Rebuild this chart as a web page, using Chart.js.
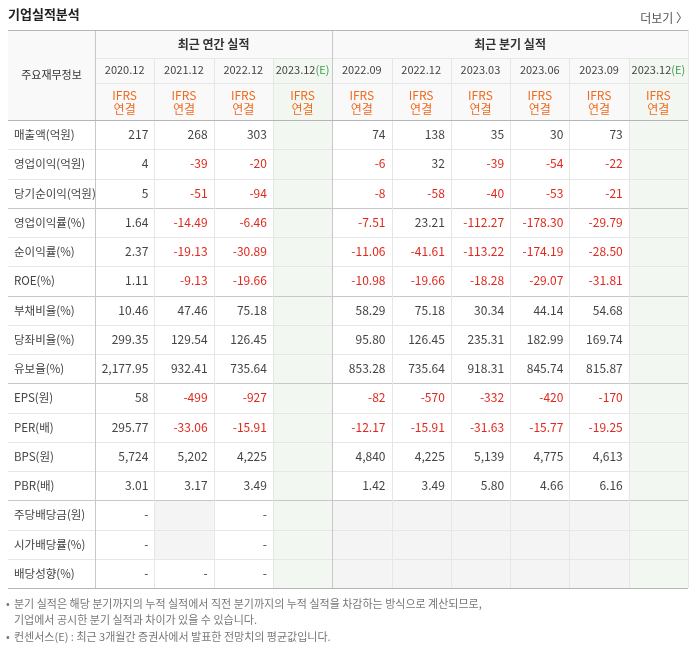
<!DOCTYPE html>
<html>
<head>
<meta charset="utf-8">
<script src="https://cdn.jsdelivr.net/npm/chart.js@4"></script>
<style>
body { margin: 0; background: #fff; }
#wrap { width: 694px; height: 648px; }
</style>
</head>
<body>
<div id="wrap"><canvas id="tabela"></canvas></div>
<script>
const colunas = ['2020.12', '2021.12', '2022.12', '2023.12(E)', '2022.09', '2022.12', '2023.03', '2023.06', '2023.09', '2023.12(E)']
const linhas = ['매출액(억원)', '영업이익(억원)', '당기순이익(억원)', '영업이익률(%)', '순이익률(%)', 'ROE(%)',
    '부채비율(%)', '당좌비율(%)', '유보율(%)', 'EPS(원)', 'PER(배)', 'BPS(원)', 'PBR(배)',
    '주당배당금(원)', '시가배당률(%)', '배당성향(%)']

// annual 3 values + quarterly 5 values per row ('' = empty)
const anual = [
    ['217', '268', '303'], ['4', '-39', '-20'], ['5', '-51', '-94'],
    ['1.64', '-14.49', '-6.46'], ['2.37', '-19.13', '-30.89'], ['1.11', '-9.13', '-19.66'],
    ['10.46', '47.46', '75.18'], ['299.35', '129.54', '126.45'], ['2,177.95', '932.41', '735.64'],
    ['58', '-499', '-927'], ['295.77', '-33.06', '-15.91'], ['5,724', '5,202', '4,225'],
    ['3.01', '3.17', '3.49'], ['-', '', '-'], ['-', '', '-'], ['-', '-', '-']
]
const trimestral = [
    ['74', '138', '35', '30', '73'], ['-6', '32', '-39', '-54', '-22'], ['-8', '-58', '-40', '-53', '-21'],
    ['-7.51', '23.21', '-112.27', '-178.30', '-29.79'], ['-11.06', '-41.61', '-113.22', '-174.19', '-28.50'],
    ['-10.98', '-19.66', '-18.28', '-29.07', '-31.81'],
    ['58.29', '75.18', '30.34', '44.14', '54.68'], ['95.80', '126.45', '235.31', '182.99', '169.74'],
    ['853.28', '735.64', '918.31', '845.74', '815.87'],
    ['-82', '-570', '-332', '-420', '-170'], ['-12.17', '-15.91', '-31.63', '-15.77', '-19.25'],
    ['4,840', '4,225', '5,139', '4,775', '4,613'], ['1.42', '3.49', '5.80', '4.66', '6.16'],
    ['', '', '', '', ''], ['', '', '', '', ''], ['', '', '', '', '']
]
const separadores = [3, 6, 9, 13]
const notas = [
    '분기 실적은 해당 분기까지의 누적 실적에서 직전 분기까지의 누적 실적을 차감하는 방식으로 계산되므로,',
    '기업에서 공시한 분기 실적과 차이가 있을 수 있습니다.',
    '컨센서스(E) : 최근 3개월간 증권사에서 발표한 전망치의 평균값입니다.'
]

const fonte = '"Noto Sans CJK KR", "Noto Sans", sans-serif'

const desenhaTabela = {
    id: 'desenhaTabela',
    afterDraw(chart) {
        const c = chart.ctx
        const x = chart.scales.x, y = chart.scales.y
        const area = chart.chartArea
        const cw = (area.right - area.left) / colunas.length
        const rh = (area.bottom - area.top) / linhas.length
        const topo = 30, esq = 8
        const hdr1 = topo + 28, hdr2 = hdr1 + 25

        c.save()
        // header background
        c.fillStyle = '#f9f9f9'
        c.fillRect(esq, topo, area.right - esq, area.top - topo)
        // estimate columns
        c.fillStyle = '#f2f8f1'
        ;[3, 9].forEach(i => {
            const cx = x.getPixelForValue(i)
            c.fillRect(cx - cw / 2, hdr1, cw, area.bottom - hdr1)
        })
        // empty dividend cells
        c.fillStyle = '#f4f4f4'
        for (let r = 13; r < linhas.length; r++) {
            const cy = y.getPixelForValue(r)
            for (let i = 0; i < colunas.length; i++) {
                const vazio = (i < 3 && anual[r][i] === '') || (i >= 4 && i < 9 && trimestral[r][i - 4] === '')
                if (vazio) c.fillRect(x.getPixelForValue(i) - cw / 2, cy - rh / 2, cw, rh)
            }
        }

        // lines
        c.lineWidth = 1
        for (let r = 1; r < linhas.length; r++) {
            const ly = Math.round(area.top + r * rh) + 0.5
            c.strokeStyle = separadores.includes(r) ? '#c8c8c8' : '#e6e6e6'
            c.beginPath(); c.moveTo(esq, ly); c.lineTo(area.right, ly); c.stroke()
        }
        c.strokeStyle = '#e6e6e6'
        ;[hdr1, hdr2].forEach(ly => {
            c.beginPath(); c.moveTo(area.left, ly + 0.5); c.lineTo(area.right, ly + 0.5); c.stroke()
        })
        for (let i = 0; i <= colunas.length; i++) {
            const lx = Math.round(area.left + i * cw) + 0.5
            c.strokeStyle = (i === 0 || i === 4) ? '#c8c8c8' : '#e6e6e6'
            c.beginPath(); c.moveTo(lx, (i === 0 || i === 4 || i === 10) ? topo : hdr1); c.lineTo(lx, area.bottom); c.stroke()
        }
        c.strokeStyle = '#b5b5b5'
        ;[topo, area.top, area.bottom].forEach(ly => {
            c.beginPath(); c.moveTo(esq, ly + 0.5); c.lineTo(area.right, ly + 0.5); c.stroke()
        })

        // header text
        c.textBaseline = 'middle'
        c.textAlign = 'center'
        c.fillStyle = '#333'
        c.font = 'bold 12px ' + fonte
        c.fillText('최근 연간 실적', area.left + 2 * cw, topo + 14)
        c.fillText('최근 분기 실적', area.left + 7 * cw, topo + 14)
        c.font = '11px ' + fonte
        c.fillText('주요재무정보', (esq + area.left) / 2, (topo + area.top) / 2)
        colunas.forEach((lbl, i) => {
            const cx = x.getPixelForValue(i)
            c.font = '11px ' + fonte
            if (lbl.endsWith('(E)')) {
                const base = lbl.replace('(E)', '')
                const w1 = c.measureText(base).width, w2 = c.measureText('(E)').width
                c.textAlign = 'left'
                c.fillStyle = '#444'
                c.fillText(base, cx - (w1 + w2) / 2, hdr1 + 12)
                c.fillStyle = '#3a9a4a'
                c.fillText('(E)', cx - (w1 + w2) / 2 + w1, hdr1 + 12)
                c.textAlign = 'center'
            } else {
                c.fillStyle = '#444'
                c.fillText(lbl, cx, hdr1 + 12)
            }
            c.fillStyle = '#ee6a1f'
            c.font = '12px ' + fonte
            c.fillText('IFRS', cx, hdr2 + 12)
            c.fillText('연결', cx, hdr2 + 26)
        })

        // rows
        linhas.forEach((nome, r) => {
            const cy = y.getPixelForValue(r)
            c.textAlign = 'left'
            c.fillStyle = '#444'
            c.font = '11.5px ' + fonte
            c.fillText(nome, 14, cy)
            c.textAlign = 'right'
            c.font = '12px ' + fonte
            const vals = anual[r].concat([''], trimestral[r], [''])
            vals.forEach((v, i) => {
                if (v === '') return
                c.fillStyle = (v.startsWith('-') && v.length > 1) ? '#e0281c' : '#444'
                c.fillText(v, x.getPixelForValue(i) + cw / 2 - 6, cy)
            })
        })

        // title
        c.textAlign = 'left'
        c.fillStyle = '#222'
        c.font = 'bold 13px ' + fonte
        c.fillText('기업실적분석', 8, 14)
        c.textAlign = 'right'
        c.fillStyle = '#555'
        c.font = '12px ' + fonte
        c.fillText('더보기 〉', 688, 18)

        // notes
        c.textAlign = 'left'
        c.fillStyle = '#777'
        c.font = '11px ' + fonte
        c.fillText('•', 6, 604)
        c.fillText(notas[0], 14, 604)
        c.fillText(notas[1], 14, 620)
        c.fillText('•', 6, 637)
        c.fillText(notas[2], 14, 637)
        c.restore()
    }
}

new Chart(document.getElementById('tabela'), {
    type: 'bar',
    data: { labels: colunas, datasets: [] },
    options: {
        responsive: true,
        maintainAspectRatio: false,
        animation: false,
        events: [],
        layout: { padding: { left: 95, right: 6, top: 120, bottom: 60 } },
        plugins: { legend: { display: false }, tooltip: { enabled: false } },
        scales: {
            x: { type: 'category', labels: colunas, offset: true, display: false },
            y: { type: 'category', labels: linhas, offset: true, display: false }
        }
    },
    plugins: [desenhaTabela]
})
</script>
</body>
</html>
